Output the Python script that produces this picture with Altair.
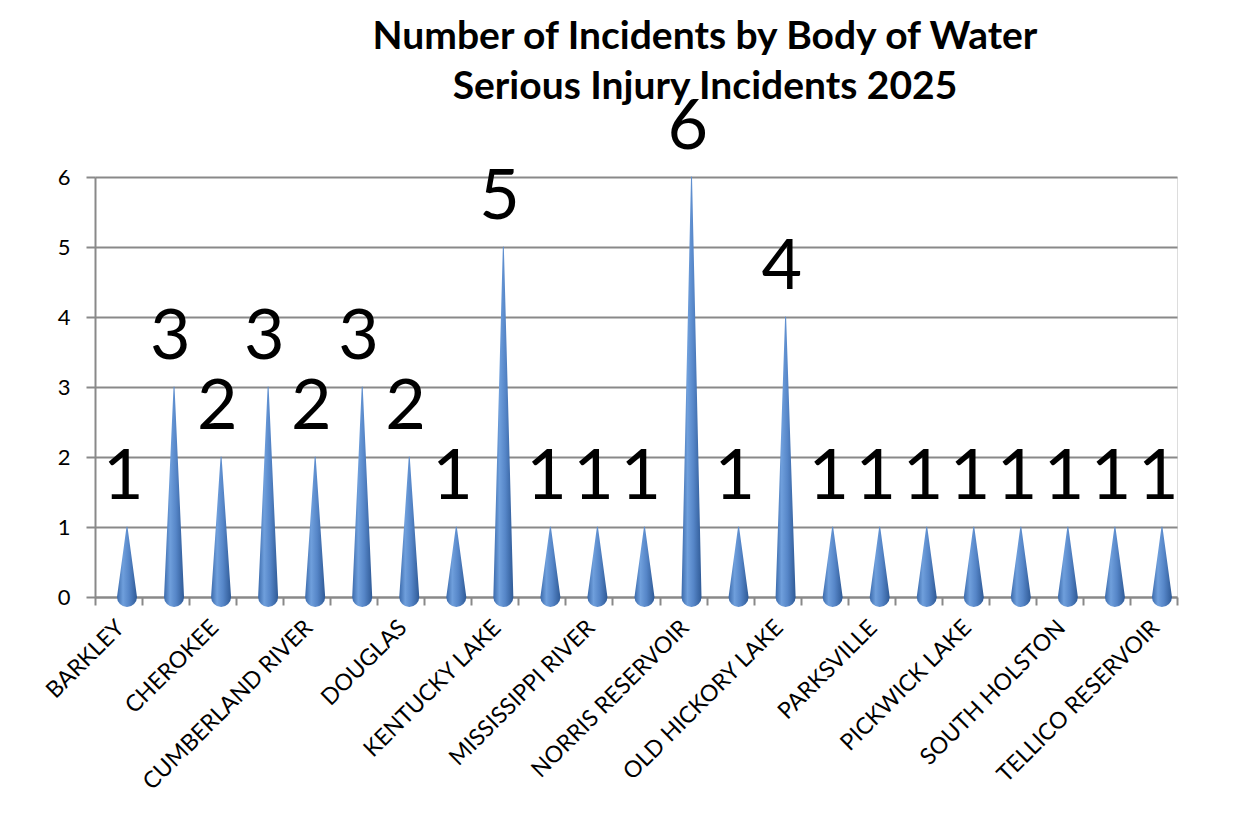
import altair as alt
import pandas as pd

categories = ["BARKLEY", "CENTER HILL", "CHEROKEE", "CHICKAMAUGA", "CUMBERLAND RIVER",
              "DALE HOLLOW", "DOUGLAS", "FORT LOUDOUN", "KENTUCKY LAKE", "MELTON HILL",
              "MISSISSIPPI RIVER", "NICKAJACK", "NORRIS RESERVOIR", "OCOEE RIVER",
              "OLD HICKORY LAKE", "PARIS LANDING", "PARKSVILLE", "PERCY PRIEST",
              "PICKWICK LAKE", "REELFOOT LAKE", "SOUTH HOLSTON", "STONES RIVER",
              "TELLICO RESERVOIR"]
values = [1, 3, 2, 3, 2, 3, 2, 1, 5, 1, 1, 1, 6, 1, 4, 1, 1, 1, 1, 1, 1, 1, 1]
shown_labels = categories[::2]
y_ticks = [0, 1, 2, 3, 4, 5, 6]
title_lines = ["Number of Incidents by Body of Water", "Serious Injury Incidents 2025"]

df = pd.DataFrame({"category": categories, "value": values})

FONT = "Lato"
grad = alt.Gradient(
    gradient="linear", x1=0, x2=1, y1=0, y2=0,
    stops=[
        alt.GradientStop(color="#3b6aab", offset=0),
        alt.GradientStop(color="#6f9fdc", offset=0.3),
        alt.GradientStop(color="#5686c8", offset=0.6),
        alt.GradientStop(color="#2f5a96", offset=1),
    ],
)

label_expr = "indexof([" + ",".join("'" + s + "'" for s in shown_labels) + "], datum.label) >= 0 ? datum.label : ''"

xscale = alt.Scale(type="band", paddingInner=0, paddingOuter=0, domain=categories)
yscale = alt.Scale(domain=[0, 6], nice=False)

x_axis = alt.Axis(
    title=None, labelAngle=-45, labelFont=FONT, labelFontSize=23, labelColor="black",
    labelExpr=label_expr, labelLimit=500, tickBand="extent", tickSize=8, tickWidth=2,
    tickColor="#898989", domainColor="#898989", domainWidth=2, labelPadding=11,
    labelOffset=-6, labelOverlap=False,
)
y_axis = alt.Axis(
    title=None, values=y_ticks, format="d", labelFont=FONT, labelFontSize=22, labelColor="black",
    tickSize=9, tickWidth=2, tickColor="#898989", domainColor="#898989", domainWidth=2,
    grid=True, gridColor="#898989", gridWidth=2, labelPadding=16,
)

base = alt.Chart(df)

cones = base.transform_calculate(
    base="0", tip="datum.value"
).transform_fold(
    ["base", "tip"], as_=["part", "h"]
).transform_calculate(
    h="toNumber(datum.h)", w="datum.part == 'base' ? 1 : 0"
).mark_trail(color=grad).encode(
    x=alt.X("category:N", sort=categories, scale=xscale, axis=x_axis, bandPosition=0.68),
    y=alt.Y("h:Q", scale=yscale, axis=y_axis),
    size=alt.Size("w:Q", scale=alt.Scale(domain=[0, 1], range=[0, 20]), legend=None),
    detail="category:N",
    order="h:Q",
)

bases = base.transform_calculate(zero="0").mark_point(
    shape="M-1,0 A1,0.25 0 0,0 1,0 Z", size=400, filled=True, fill=grad, strokeWidth=0, opacity=1
).encode(
    x=alt.X("category:N", sort=categories, scale=xscale, bandPosition=0.68),
    y=alt.Y("zero:Q", scale=yscale),
)

labels = base.mark_text(
    font=FONT, fontSize=70, baseline="alphabetic", dy=-28, color="black"
).encode(
    x=alt.X("category:N", sort=categories, scale=xscale, bandPosition=0.6),
    y=alt.Y("value:Q", scale=yscale),
    text="value:Q",
)

chart = alt.layer(cones, bases, labels).properties(
    width=1082, height=420,
    autosize=alt.AutoSizeParams(type="none"),
    padding={"left": 87, "top": 169, "right": 20, "bottom": 215},
    title=alt.TitleParams(
        title_lines, font=FONT, fontSize=39, fontWeight="bold", color="black",
        anchor="middle", dx=69, offset=-14, lineHeight=50,
    ),
).configure_view(stroke=None).configure(background="white")

chart.save("out.html", embed_options={"renderer": "svg", "actions": False})
